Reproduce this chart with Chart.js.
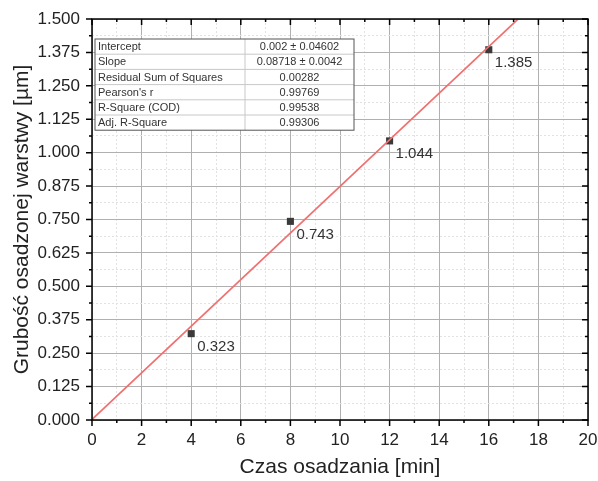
<!DOCTYPE html>
<html>
<head>
<meta charset="utf-8">
<script src="https://cdn.jsdelivr.net/npm/chart.js@4/dist/chart.umd.min.js"></script>
<style>
  body { margin: 0; background: #fff; }
  #wrap { width: 598px; height: 481px; }
</style>
</head>
<body>
<div id="wrap"><canvas id="chart" width="598" height="481"></canvas></div>
<script>
// measured points
const times = [4, 8, 12, 16];
const thickness = [0.323, 0.743, 1.044, 1.385];

// linear fit line (intercept 0.002, slope 0.08718) end points
const fitX = [0, 20];
const fitY = [0.002, 1.7456];

// fit statistics box
const statNames = ["Intercept", "Slope", "Residual Sum of Squares", "Pearson's r", "R-Square (COD)", "Adj. R-Square"];
const statValues = ["0.002 \u00b1 0.04602", "0.08718 \u00b1 0.0042", "0.00282", "0.99769", "0.99538", "0.99306"];

const FONT = "'Liberation Sans', Arial, sans-serif";

const isMajor = (v, step) => Math.abs(v / step - Math.round(v / step)) < 1e-6;

// frame, tick marks, point labels and the stats table
const extras = {
  id: "extras",
  afterDraw(chart) {
    const ctx = chart.ctx;
    const a = chart.chartArea;
    const xs = chart.scales.x, ys = chart.scales.y;
    ctx.save();

    // point labels
    ctx.font = "15px " + FONT;
    ctx.fillStyle = "#333";
    ctx.textAlign = "left";
    ctx.textBaseline = "middle";
    times.forEach((t, i) => {
      const px = xs.getPixelForValue(t), py = ys.getPixelForValue(thickness[i]);
      ctx.fillText(thickness[i].toFixed(3), px + 6, py + 13);
    });

    // ticks
    ctx.strokeStyle = "#000";
    ctx.lineWidth = 1.5;
    ctx.beginPath();
    xs.ticks.forEach(t => {
      const px = xs.getPixelForValue(t.value);
      const len = isMajor(t.value, 2) ? 6 : 3;
      ctx.moveTo(px, a.bottom); ctx.lineTo(px, a.bottom + len);
      ctx.moveTo(px, a.top); ctx.lineTo(px, a.top + len);
    });
    ys.ticks.forEach(t => {
      const py = ys.getPixelForValue(t.value);
      const len = isMajor(t.value, 0.125) ? 6 : 3;
      ctx.moveTo(a.left, py); ctx.lineTo(a.left - len, py);
      ctx.moveTo(a.right, py); ctx.lineTo(a.right - len, py);
    });
    ctx.stroke();

    // frame
    ctx.lineWidth = 1.5;
    ctx.strokeRect(a.left, a.top, a.right - a.left, a.bottom - a.top);

    // stats table
    const tx = 95, ty = 39, tw = 259, rh = 15.2, c1 = 150;
    const th = rh * statNames.length;
    ctx.fillStyle = "#fff";
    ctx.fillRect(tx, ty, tw, th);
    ctx.strokeStyle = "#c8c8c8";
    ctx.lineWidth = 1;
    ctx.beginPath();
    for (let i = 1; i < statNames.length; i++) {
      ctx.moveTo(tx, ty + i * rh); ctx.lineTo(tx + tw, ty + i * rh);
    }
    ctx.moveTo(tx + c1, ty); ctx.lineTo(tx + c1, ty + th);
    ctx.stroke();
    ctx.strokeStyle = "#555";
    ctx.strokeRect(tx, ty, tw, th);
    ctx.font = "11px " + FONT;
    ctx.fillStyle = "#333";
    ctx.textBaseline = "middle";
    statNames.forEach((n, i) => {
      const cy = ty + i * rh + rh / 2 + 0.5;
      ctx.textAlign = "left";
      ctx.fillText(n, tx + 3, cy);
      ctx.textAlign = "center";
      ctx.fillText(statValues[i], tx + c1 + (tw - c1) / 2, cy);
    });
    ctx.restore();
  }
};

new Chart(document.getElementById("chart").getContext("2d"), {
  type: "scatter",
  data: {
    datasets: [
      {
        type: "line",
        data: fitX.map((x, i) => ({ x: x, y: fitY[i] })),
        borderColor: "#f07070",
        borderWidth: 1.7,
        pointRadius: 0,
        fill: false
      },
      {
        data: times.map((t, i) => ({ x: t, y: thickness[i] })),
        pointStyle: "rect",
        pointRadius: 5,
        backgroundColor: "#3a3a3a",
        borderColor: "#3a3a3a",
        borderWidth: 0
      }
    ]
  },
  options: {
    responsive: false,
    animation: false,
    layout: { padding: { top: 19, right: 10, left: 0, bottom: 0 } },
    plugins: { legend: { display: false }, tooltip: { enabled: false } },
    scales: {
      x: {
        type: "linear",
        min: 0, max: 20,
        afterFit: s => { s.height = 61; s.paddingLeft = 0; s.paddingRight = 0; },
        ticks: {
          stepSize: 1, autoSkip: false, maxRotation: 0, padding: 10,
          color: "#222", font: { family: FONT, size: 17 },
          callback: v => isMajor(v, 2) ? String(v) : ""
        },
        grid: {
          drawTicks: false,
          color: c => isMajor(c.tick.value, 2) ? "#b0b0b0" : "#e2e2e2",
          lineWidth: 1
        },
        border: { display: false, dash: c => isMajor(c.tick.value, 2) ? [] : [2, 2] },
        title: {
          display: true, text: "Czas osadzania [min]", color: "#222",
          font: { family: FONT, size: 21 }, padding: { top: 0, bottom: 1 }
        }
      },
      y: {
        min: 0, max: 1.5,
        afterFit: s => { s.width = 92; s.paddingTop = 0; s.paddingBottom = 0; },
        ticks: {
          stepSize: 0.0625, autoSkip: false, padding: 12,
          color: "#222", font: { family: FONT, size: 17 },
          callback: v => isMajor(v, 0.125) ? v.toFixed(3) : ""
        },
        grid: {
          drawTicks: false,
          color: c => isMajor(c.tick.value, 0.125) ? "#b0b0b0" : "#e2e2e2",
          lineWidth: 1
        },
        border: { display: false, dash: c => isMajor(c.tick.value, 0.125) ? [] : [2, 2] },
        title: {
          display: true, text: "Grubość osadzonej warstwy [µm]", color: "#222",
          font: { family: FONT, size: 21 }, padding: { top: 10, bottom: 0 }
        }
      }
    }
  },
  plugins: [extras]
});
</script>
</body>
</html>
